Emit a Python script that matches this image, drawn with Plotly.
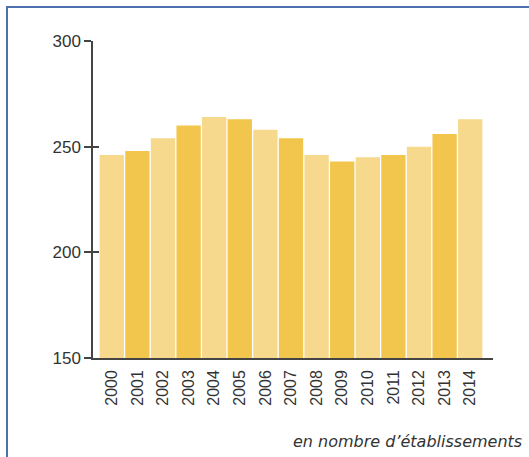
import plotly.graph_objects as go

years = ["2000", "2001", "2002", "2003", "2004", "2005", "2006", "2007",
         "2008", "2009", "2010", "2011", "2012", "2013", "2014"]
values = [246, 248, 254, 260, 264, 263, 258, 254, 246, 243, 245, 246, 250, 256, 263]
light = "#F7D98E"
dark = "#F2C64C"
colors = [light if i % 2 == 0 else dark for i in range(len(years))]
y_ticks = [150, 200, 250, 300]
note = "en nombre d’établissements"

fig = go.Figure()
fig.add_trace(go.Bar(x=years, y=values, marker=dict(color=colors, line=dict(width=0)),
                     hoverinfo="x+y"))
# overlay axis just to draw the inner half of the crossing ticks
fig.add_trace(go.Scatter(x=[years[0]], y=[None], yaxis="y2", showlegend=False, hoverinfo="skip"))

W, H = 529, 457
L, R, T, B = 93, 36, 41, 99
pw, ph = W - L - R, H - T - B

fig.update_layout(
    width=W, height=H,
    margin=dict(l=L, r=R, t=T, b=B, autoexpand=False),
    paper_bgcolor="white", plot_bgcolor="white",
    showlegend=False,
    bargap=0.05,
    font=dict(family="Liberation Sans, Arial, sans-serif", color="#333333"),
    xaxis=dict(
        type="category",
        range=[-0.734, 14.89],
        showgrid=False, zeroline=False, automargin=False,
        showline=True, linecolor="#444444", linewidth=1.5,
        ticks="", tickangle=-90, ticklabelstandoff=4,
        tickfont=dict(size=16, color="#333333"),
    ),
    yaxis=dict(
        range=[150, 300],
        tickvals=y_ticks, automargin=False,
        showgrid=False, zeroline=False,
        showline=True, linecolor="#444444", linewidth=1.5,
        ticks="outside", ticklen=7, tickwidth=1.5, tickcolor="#444444",
        tickfont=dict(size=17, color="#333333"),
    ),
    yaxis2=dict(
        range=[150, 300], overlaying="y", side="left",
        tickvals=y_ticks, showticklabels=False, automargin=False,
        showgrid=False, zeroline=False, showline=False,
        ticks="inside", ticklen=6, tickwidth=1.5, tickcolor="#444444",
    ),
    annotations=[dict(
        text=note, xref="paper", yref="paper",
        x=(524 - L) / pw, y=(358 - 441) / ph,
        xanchor="right", yanchor="middle", showarrow=False,
        font=dict(family="DejaVu Sans", size=16, color="#333333", style="italic"),
    )],
    shapes=[dict(
        type="rect", xref="paper", yref="paper",
        x0=(7 - L) / pw, x1=(540 - L) / pw,
        y0=(358 - 470) / ph, y1=1 + (T - 7) / ph,
        line=dict(color="#4F70AE", width=2), layer="below",
    )],
)

fig.write_html("out.html", config={"displayModeBar": False},
               post_script="document.body.style.margin='0';document.body.style.padding='0';document.body.style.overflow='hidden';")
